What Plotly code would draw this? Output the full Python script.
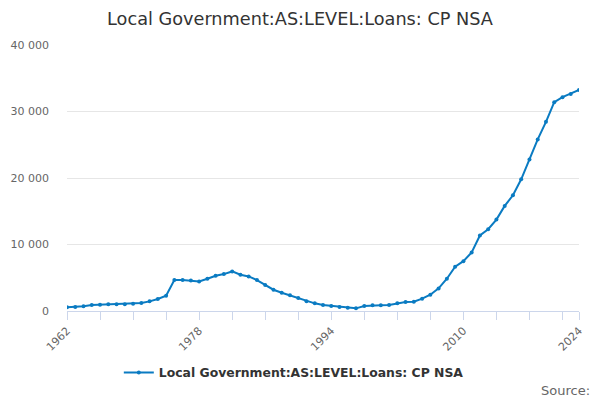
import plotly.graph_objects as go

years = list(range(1962, 2025))
loans = [
    560, 600, 700, 900, 950, 1000, 1000, 1000, 1100, 1200,
    1450, 1800, 2300, 4650, 4650, 4600, 4450, 4850, 5300, 5550,
    5950, 5450, 5200, 4650, 3900, 3200, 2750, 2350, 1950, 1450,
    1150, 900, 750, 600, 500, 400, 750, 850, 850, 900,
    1150, 1350, 1400, 1850, 2450, 3400, 4850, 6650, 7500, 8800,
    11350, 12300, 13750, 15800, 17400, 19800, 22800, 25800, 28450, 31400,
    32150, 32650, 33250,
]
tick_years = list(range(1962, 2023, 4)) + [2024]
label_years = [1962, 1978, 1994, 2010, 2024]
tick_text = [str(y) if y in label_years else "" for y in tick_years]
y_ticks = [0, 10000, 20000, 30000, 40000]

series_name = "Local Government:AS:LEVEL:Loans: CP NSA"
blue = "#0a7bc2"

fig = go.Figure()

fig.add_trace(
    go.Scatter(
        x=years,
        y=loans,
        mode="lines+markers",
        name=series_name,
        line=dict(color=blue, width=2),
        marker=dict(color=blue, size=4),
    )
)

fig.update_layout(
    width=600,
    height=400,
    paper_bgcolor="white",
    plot_bgcolor="white",
    font=dict(family="DejaVu Sans", color="#333333"),
    separators=". ",
    title=dict(
        text=series_name,
        x=0.5,
        xanchor="center",
        y=0.953,
        yanchor="middle",
        font=dict(size=17.7, color="#333333"),
    ),
    margin=dict(l=67, r=21, t=45, b=89),
    showlegend=True,
    legend=dict(
        orientation="h",
        x=0.443,
        xanchor="center",
        y=-0.233,
        yanchor="middle",
        font=dict(size=12.4, color="#333333", weight="bold"),
    ),
    annotations=[
        dict(
            text="Source:",
            xref="paper",
            yref="paper",
            x=1.025,
            y=-0.297,
            xanchor="right",
            yanchor="middle",
            showarrow=False,
            font=dict(size=13, color="#666666"),
        )
    ],
)

fig.update_xaxes(
    range=[1962, 2024],
    tickmode="array",
    tickvals=tick_years,
    ticktext=tick_text,
    tickangle=-45,
    ticks="outside",
    ticklen=8,
    tickcolor="#ccd6eb",
    showgrid=False,
    showline=True,
    linecolor="#ccd6eb",
    tickfont=dict(size=11, color="#666666"),
    zeroline=False,
    automargin=False,
)

fig.update_yaxes(
    range=[0, 40000],
    tickmode="array",
    tickvals=y_ticks,
    tickformat=",d",
    showgrid=True,
    gridcolor="#e6e6e6",
    zeroline=False,
    tickfont=dict(size=11, color="#666666"),
    ticklabelstandoff=17,
    automargin=False,
)

# drop the page's default body margin so the chart sits at the window's corner
fig.write_html(
    "out.html",
    config={"displayModeBar": False},
    post_script="document.body.style.margin = '0';",
)
